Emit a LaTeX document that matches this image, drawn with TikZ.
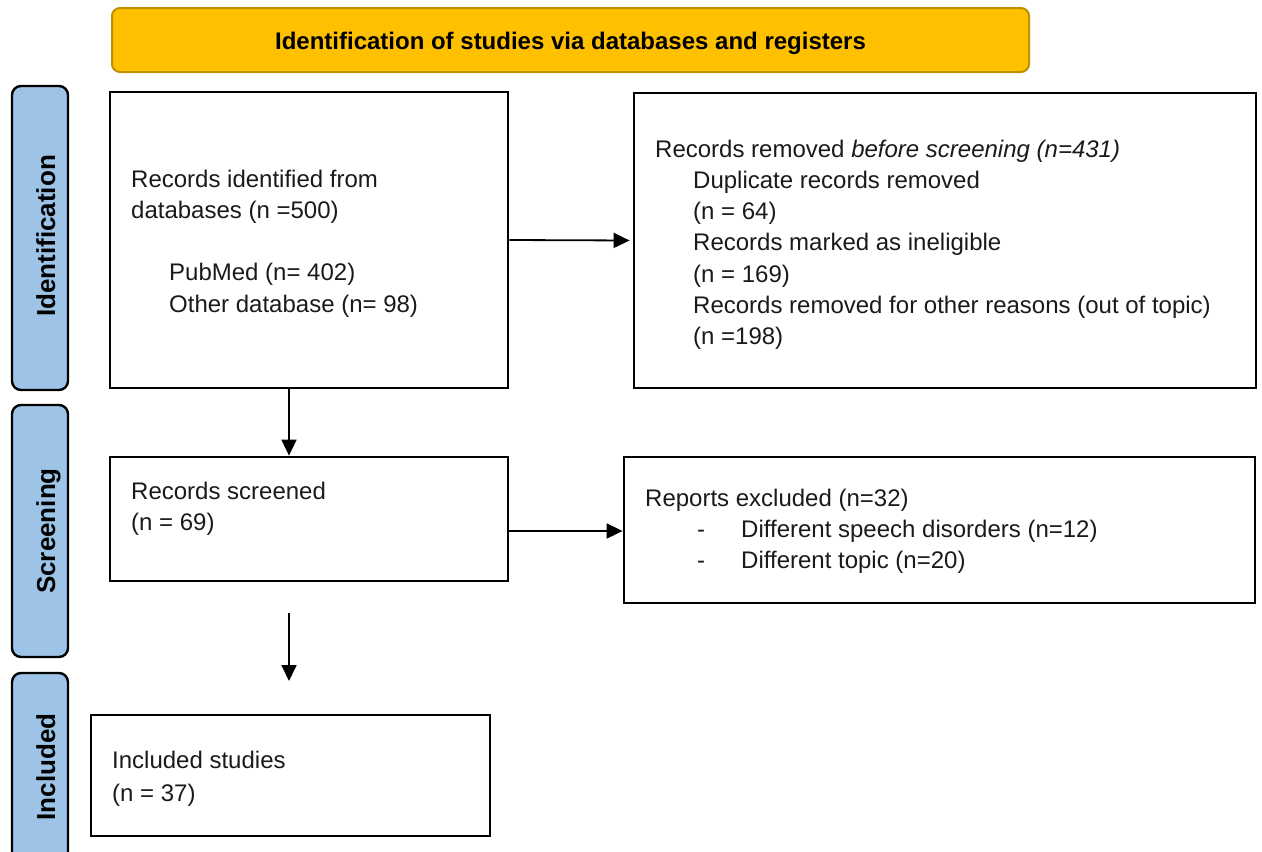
\documentclass[tikz,border=0pt]{standalone}
\usepackage{fontspec}
\setmainfont{Liberation Sans}
\usetikzlibrary{arrows.meta}
\definecolor{hdrfill}{HTML}{FFC000}
\definecolor{hdrdraw}{HTML}{BF9000}
\definecolor{sidefill}{HTML}{9DC3E6}
\definecolor{txt}{HTML}{1A1A1A}
\newcommand{\bodyfont}{\fontsize{24}{31.3}\selectfont}
\begin{document}
\begin{tikzpicture}[x=1pt,y=-1pt,
  box/.style n args={2}{draw=black,line width=2.8pt,minimum width=#1,minimum height=#2,inner sep=0pt},
  sidebox/.style n args={2}{draw=black,line width=2.4pt,fill=sidefill,rounded corners=9pt,minimum width=#1,minimum height=#2,inner sep=0pt},
  hdr/.style={draw=hdrdraw,line width=2pt,fill=hdrfill,rounded corners=8pt,minimum width=917pt,minimum height=64pt,inner sep=0pt,text height=18pt,text depth=0pt,font=\fontsize{24}{28}\selectfont\bfseries,text=black},
  sidelbl/.style={rotate=90,anchor=base,inner sep=0pt,font=\fontsize{26}{30}\selectfont\bfseries,text=black},
  body/.style={anchor=base west,inner sep=0pt,text=txt,font=\bodyfont},
  arr/.style={draw=black,line width=1.8pt,-{Triangle[length=16pt,width=15pt]}}]
\useasboundingbox (0,0) rectangle (1262,852);

% header
\node[hdr] (head) at (570.5,40) {Identification of studies via databases and registers};

% side bars
\node[sidebox={56pt}{304pt}] (sideid) at (40,238) {};
\node[sidebox={56pt}{252pt}] (sidescr) at (40,531) {};
\node[sidebox={56pt}{190pt}] (sideinc) at (40,768) {};
\node[sidelbl] (lblid) at (55,236) {Identification};
\node[sidelbl] (lblscr) at (55,531) {Screening};
\node[sidelbl] (lblinc) at (55,767) {Included};

% boxes
\node[box={398pt}{296pt}] (ident) at (309,240) {};
\node[box={622pt}{295pt}] (removed) at (945,240.5) {};
\node[box={398pt}{124pt}] (screened) at (309,519) {};
\node[box={631pt}{146pt}] (excluded) at (939.5,530) {};
\node[box={399pt}{121pt}] (included) at (290.5,775.5) {};

% texts
\node[body] (tident) at (131,187) {\begin{tabular}[t]{@{}l@{}}Records identified from\\ databases (n =500)\\[31.3pt] \hspace*{38pt}PubMed (n= 402)\\ \hspace*{38pt}Other database (n= 98)\end{tabular}};
\node[body] (tremoved) at (655,157) {\begin{tabular}[t]{@{}l@{}}Records removed \textit{before screening (n=431)}\\
\hspace*{38pt}Duplicate records removed\\
\hspace*{38pt}(n = 64)\\
\hspace*{38pt}Records marked as ineligible\\
\hspace*{38pt}(n = 169)\\
\hspace*{38pt}Records removed for other reasons (out of topic)\\
\hspace*{38pt}(n =198)\end{tabular}};
\node[body] (tscreened) at (131,499) {\begin{tabular}[t]{@{}l@{}}Records screened\\ (n = 69)\end{tabular}};
\node[body] (texcluded) at (645,506) {\begin{tabular}[t]{@{}l@{}}Reports excluded (n=32)\\
\hspace*{52pt}\makebox[44pt][l]{-}Different speech disorders (n=12)\\
\hspace*{52pt}\makebox[44pt][l]{-}Different topic (n=20)\end{tabular}};
\node[body] (tincluded) at (112,768) {\begin{tabular}[t]{@{}l@{}}Included studies\\[2.5pt] (n = 37)\end{tabular}};

% arrows
\draw[arr,shorten >=3pt] (ident.east) -- (removed.west);
\draw[arr] ([xshift=-20pt]ident.south) -- ([xshift=-20pt]screened.north);
\draw[arr] ([yshift=-12pt]screened.east) -- ([yshift=-12pt]screened.east -| excluded.west);
\coordinate (dstart) at (289,613);
\coordinate (dend) at (289,681);
\draw[arr] (dstart) -- (dend);
\end{tikzpicture}
\end{document}
